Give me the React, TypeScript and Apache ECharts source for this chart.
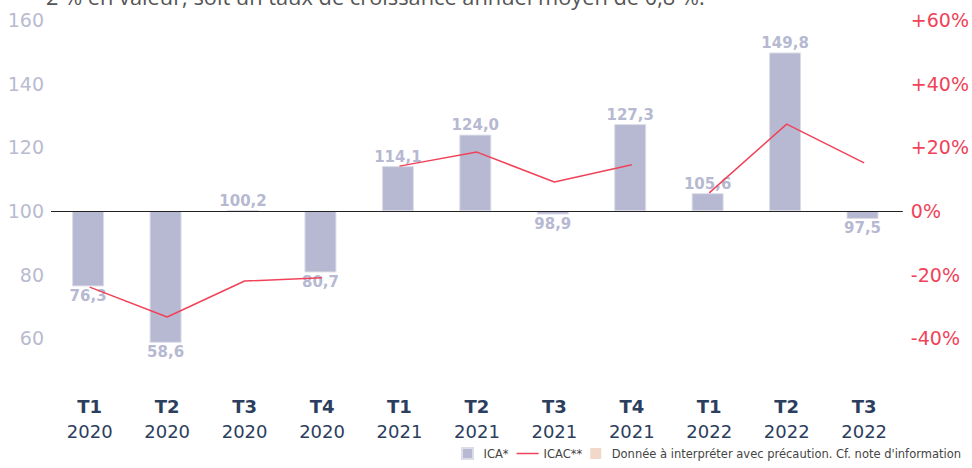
import React, { useEffect, useRef } from "react";
import * as echarts from "echarts";

const quarters = ["T1", "T2", "T3", "T4", "T1", "T2", "T3", "T4", "T1", "T2", "T3"];
const years = ["2020", "2020", "2020", "2020", "2021", "2021", "2021", "2021", "2022", "2022", "2022"];
const icaValues = [76.3, 58.6, 100.2, 80.7, 114.1, 124.0, 98.9, 127.3, 105.6, 149.8, 97.5];
const icacValues = [-23.9, -33.3, -22.0, -21.0, 14.1, 18.5, 9.1, 14.5, 5.7, 27.3, 15.1];
// segments of the ICAC line (start, end index inclusive)
const icacSegments = [[0, 3], [4, 7], [8, 10]];
const leftTicks = { min: 40, max: 160, base: 100, step: 20 };
const rightTicks = { min: -60, max: 60, step: 20 };
const titleText = "2 % en valeur, soit un taux de croissance annuel moyen de 0,8 %.";
const legendNames = ["ICA*", "ICAC**", "Donnée à interpréter avec précaution. Cf. note d'information"];

const BAR = "#b6b9d1";
const RED = "#f0435a";
const NAVY = "#2c3e5e";
const SQUARE = "path://M0,0h10v10h-10z";
const LINEICON = "path://M0,0h22v1.5h-22z";

export default function App() {
  const ref = useRef<HTMLDivElement>(null);
  useEffect(() => {
    document.body.style.margin = "0";
    document.body.style.overflow = "hidden";
    document.documentElement.style.overflow = "hidden";
    const chart = echarts.init(ref.current!, null, { renderer: "svg", width: 972, height: 468 });
    const cats = quarters.map((q, i) => q + "\n" + years[i]);
    const lineSeries = icacSegments.map(([s, e]) => ({
      name: legendNames[1],
      type: "line",
      yAxisIndex: 1,
      data: icacValues.map((v, i) => (i >= s && i <= e ? v : null)),
      symbol: "none",
      showSymbol: false,
      lineStyle: { color: RED, width: 1.5 },
      itemStyle: { color: RED },
      z: 5,
    }));
    chart.setOption({
      animation: false,
      textStyle: { fontFamily: "DejaVu Sans" },
      grid: { left: 51, right: 61, top: 20, bottom: 66, containLabel: false },
      graphic: [
        {
          type: "text",
          left: 46,
          top: -15,
          style: { text: titleText, fontSize: 21.8, fill: "#555", fontFamily: "Open Sans" },
        },
      ],
      legend: {
        data: [
          { name: legendNames[0], icon: SQUARE },
          { name: legendNames[1], icon: LINEICON },
          { name: legendNames[2], icon: SQUARE },
        ],
        right: 6,
        bottom: 3,
        itemWidth: 22,
        itemHeight: 11,
        itemGap: 8,
        symbolKeepAspect: true,
        textStyle: { fontSize: 11.5, color: "#444", fontFamily: "DejaVu Sans" },
      },
      xAxis: {
        type: "category",
        data: cats,
        axisLine: { show: false },
        axisTick: { show: false },
        axisLabel: {
          margin: -8,
          interval: 0,
          formatter: (v: string) => {
            const [q, y] = v.split("\n");
            return "{a|" + q + "}\n{b|" + y + "}";
          },
          rich: {
            a: { fontSize: 18, fontWeight: "bold", color: NAVY, lineHeight: 25, fontFamily: "DejaVu Sans" },
            b: { fontSize: 18, color: NAVY, lineHeight: 25, fontFamily: "DejaVu Sans" },
          },
        },
      },
      yAxis: [
        {
          type: "value",
          min: leftTicks.min - leftTicks.base,
          max: leftTicks.max - leftTicks.base,
          interval: leftTicks.step,
          splitLine: { show: false },
          axisLine: { show: false },
          axisTick: { show: false },
          axisLabel: {
            margin: 7,
            fontSize: 19,
            color: "#b9bbd0",
            fontFamily: "DejaVu Sans",
            formatter: (v: number) => (v === leftTicks.min - leftTicks.base ? "" : String(v + leftTicks.base)),
          },
        },
        {
          type: "value",
          min: rightTicks.min,
          max: rightTicks.max,
          interval: rightTicks.step,
          splitLine: { show: false },
          axisLine: { show: false },
          axisTick: { show: false },
          axisLabel: {
            margin: 8,
            fontSize: 19,
            color: RED,
            fontFamily: "DejaVu Sans",
            formatter: (v: number) => (v === rightTicks.min ? "" : (v > 0 ? "+" : "") + v + "%"),
          },
        },
      ],
      series: [
        {
          name: legendNames[0],
          type: "bar",
          barWidth: 32,
          itemStyle: { color: BAR, borderColor: "#dcdde9", borderWidth: 1 },
          data: icaValues.map((v) => ({
            value: +(v - leftTicks.base).toFixed(1),
            label: { position: v >= leftTicks.base ? "top" : "bottom" },
          })),
          label: {
            show: true,
            distance: 2,
            fontSize: 15,
            fontWeight: "bold",
            color: "#b6b9d1",
            fontFamily: "DejaVu Sans",
            formatter: (p: any) => icaValues[p.dataIndex].toFixed(1).replace(".", ","),
          },
          markLine: {
            silent: true,
            symbol: "none",
            label: { show: false },
            lineStyle: { color: "#222", width: 1, type: "solid" },
            data: [{ yAxis: 0 }],
          },
        },
        ...lineSeries,
        {
          name: legendNames[2],
          type: "bar",
          data: [],
          itemStyle: { color: "#f2d8c9" },
        },
      ],
    });
    return () => chart.dispose();
  }, []);
  return <div ref={ref} style={{ width: 972, height: 468 }} />;
}
